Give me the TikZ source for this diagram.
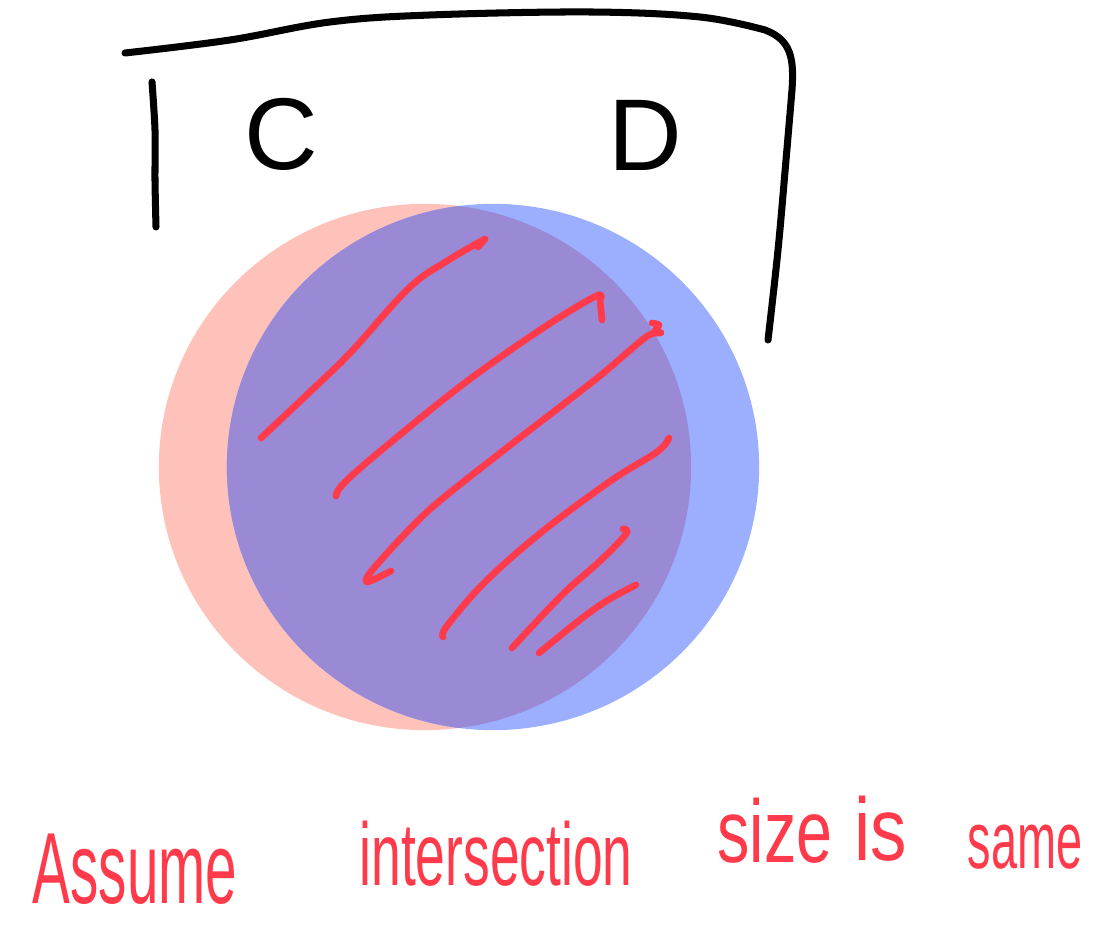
\documentclass[tikz,border=0pt]{standalone}
\usepackage{fontspec}
\usepackage{graphicx}
\setmainfont{Liberation Sans}
\definecolor{salmon}{HTML}{FFC2BA}
\definecolor{bluec}{HTML}{9CAFFF}
\definecolor{purp}{HTML}{9A89D4}
\definecolor{pen}{HTML}{FF3A4A}
\tikzset{
  ink/.style={line width=2pt, line cap=round, line join=round, black},
  hatch/.style={line width=1.9pt, line cap=round, line join=round, pen},
  note/.style={pen, anchor=base, font=\fontsize{23}{26}\selectfont},
  letter/.style={black, anchor=base, font=\fontsize{29}{32}\selectfont}
}
\begin{document}
\begin{tikzpicture}[x=0.01cm,y=-0.01cm]
\useasboundingbox (0,0) rectangle (1097,928);
% circles
\fill[salmon] (425,467) ellipse [x radius=2.66cm, y radius=2.63cm];
\fill[bluec] (493,467) ellipse [x radius=2.66cm, y radius=2.63cm];
\begin{scope}
  \clip (425,467) ellipse [x radius=2.66cm, y radius=2.63cm];
  \fill[purp] (493,467) ellipse [x radius=2.66cm, y radius=2.63cm];
\end{scope}
% black bracket
\draw[ink] plot[smooth, tension=0.6] coordinates {(125,53) (230,40) (330,22) (430,15) (590,12) (700,17) (765,30)}
  .. controls (792,40) and (794,60) .. (792,90)
  plot[smooth, tension=0.6] coordinates {(792,90) (786,160) (778,250) (768,340)};
\draw[ink] plot[smooth] coordinates {(152,82) (155,130) (155,180) (156,227)};
% letters
\node[letter] (C) at (281,170) {C};
\node[letter] (D) at (645,171) {D};
% hatching
\draw[hatch] plot[smooth, tension=0.6] coordinates {(261,438) (313,389) (351,352) (409,288) (447,261) (485,239)} -- (478,247);
\draw[hatch] plot[smooth, tension=0.6] coordinates {(336,496) (345,482) (390,443) (466,382) (543,328) (596,296) (600,300)} -- (602,320);
\draw[hatch] plot[smooth, tension=0.5] coordinates {(652,323) (659,325) (655,331) (661,333) (646,337) (596,379) (504,450) (428,511) (374,568) (367,582) (391,571)};
\draw[hatch] plot[smooth, tension=0.6] coordinates {(669,438) (657,452) (612,480) (543,531) (485,582) (447,626) (443,637)};
\draw[hatch] plot[smooth, tension=0.6] coordinates {(623,529) (626,534) (600,561) (562,595) (512,648)};
\draw[hatch] plot[smooth, tension=0.6] coordinates {(539,653) (581,619) (608,600) (636,585)};
% note
\node[note] (w1) at (135,903) {\scalebox{0.7}[1.25]{Assume}};
\node[note] (w2) at (496,885) {\scalebox{0.66}[1.1]{intersection}};
\node[note] (w3) at (775,862) {\scalebox{0.8}[1.1]{size}};
\node[note] (w4) at (881,860) {\scalebox{0.9}[1.1]{is}};
\node[note] (w5) at (1025,868) {\scalebox{0.58}[1.0]{same}};
\end{tikzpicture}
\end{document}
